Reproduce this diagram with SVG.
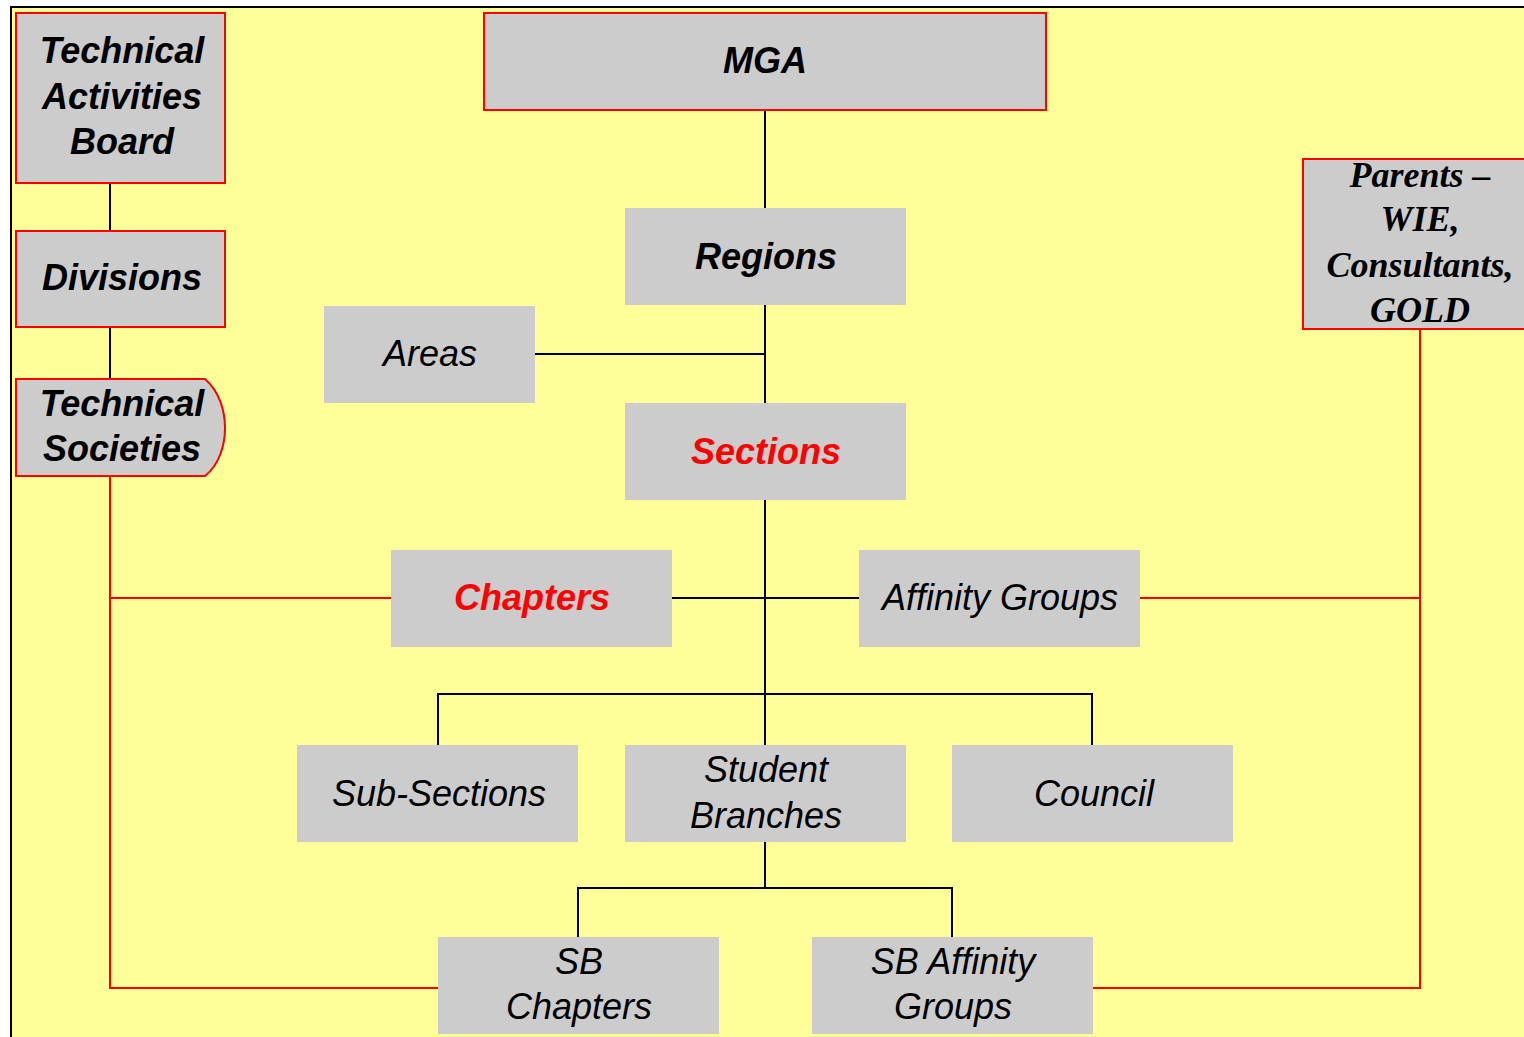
<svg xmlns="http://www.w3.org/2000/svg" width="1524" height="1037" viewBox="0 0 1524 1037">
<style>
.box{fill:#CCCCCC;stroke:none}
.rbox{fill:#CCCCCC;stroke:#FF0000;stroke-width:2}
.bl{stroke:#000;stroke-width:2;fill:none}
.rl{stroke:#FF0000;stroke-width:2;fill:none}
text{font-family:"Liberation Sans",Arial,sans-serif;font-size:36px;font-style:italic;text-anchor:middle;fill:#000}
.b{font-weight:bold}
.red{fill:#FF0000}
.serif{font-family:"Liberation Serif","Times New Roman",serif;font-weight:bold}
</style>
<rect x="0" y="0" width="1524" height="1037" fill="#FFFFFF"/>
<rect x="11" y="7" width="1520" height="1040" fill="#FFFF99" stroke="#000" stroke-width="2"/>
<g id="connectors">
<path class="bl" d="M765,110V208M765,305V403M531,354H765M765,500V745M671,598H859M438,745V694H1092V745M765,842V888M578,937V888H952V937M110,183V231M110,327V379"/>
<path class="rl" d="M110,476V988H438M110,598H391M1420,329V988H1092M1139,598H1420"/>
</g>
<g id="tab"><rect class="rbox" x="16" y="13" width="209" height="170"/><text class="b" x="122" y="63">Technical</text><text class="b" x="122" y="109">Activities</text><text class="b" x="122" y="154">Board</text></g>
<g id="divisions"><rect class="rbox" x="16" y="231" width="209" height="96"/><text class="b" x="122" y="290">Divisions</text></g>
<g id="techsoc"><path class="rbox" d="M16,379H205C220,392 225,412 225,428C225,444 220,464 205,476H16Z"/><text class="b" x="122" y="416">Technical</text><text class="b" x="122" y="461">Societies</text></g>
<g id="mga"><rect class="rbox" x="484" y="13" width="562" height="97"/><text class="b" x="765" y="73">MGA</text></g>
<g id="regions"><rect class="box" x="625" y="208" width="281" height="97"/><text class="b" x="766" y="269">Regions</text></g>
<g id="areas"><rect class="box" x="324" y="306" width="211" height="97"/><text x="430" y="366">Areas</text></g>
<g id="sections"><rect class="box" x="625" y="403" width="281" height="97"/><text class="b red" x="766" y="464">Sections</text></g>
<g id="chapters"><rect class="box" x="391" y="550" width="281" height="97"/><text class="b red" x="532" y="610">Chapters</text></g>
<g id="affinity"><rect class="box" x="859" y="550" width="281" height="97"/><text x="1000" y="610">Affinity Groups</text></g>
<g id="subsections"><rect class="box" x="297" y="745" width="281" height="97"/><text x="439" y="806">Sub-Sections</text></g>
<g id="studentbranches"><rect class="box" x="625" y="745" width="281" height="97"/><text x="766" y="782">Student</text><text x="766" y="828">Branches</text></g>
<g id="council"><rect class="box" x="952" y="745" width="281" height="97"/><text x="1094" y="806">Council</text></g>
<g id="sbchapters"><rect class="box" x="438" y="937" width="281" height="97"/><text x="579" y="974">SB</text><text x="579" y="1019">Chapters</text></g>
<g id="sbaffinity"><rect class="box" x="812" y="937" width="281" height="97"/><text x="953" y="974">SB Affinity</text><text x="953" y="1019">Groups</text></g>
<g id="parents"><rect class="rbox" x="1303" y="159" width="234" height="170"/><text class="serif" x="1420" y="187">Parents –</text><text class="serif" x="1420" y="231">WIE,</text><text class="serif" x="1420" y="277">Consultants,</text><text class="serif" x="1420" y="322">GOLD</text></g>
</svg>
